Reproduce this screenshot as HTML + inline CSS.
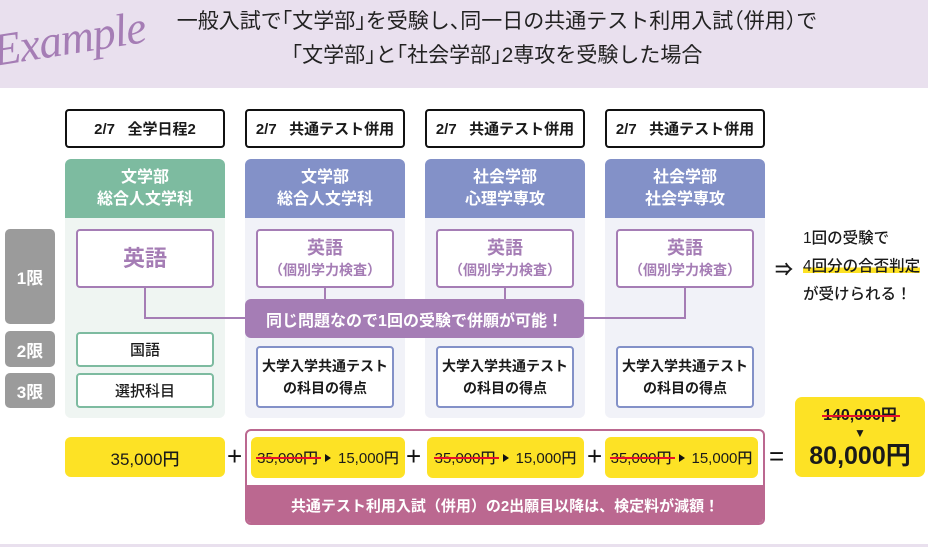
<!DOCTYPE html>
<html><head><meta charset="utf-8">
<style>
*{margin:0;padding:0;box-sizing:border-box}
body{width:928px;height:547px;position:relative;overflow:hidden;background:#fff;font-family:"Liberation Sans","Noto Sans CJK JP",sans-serif;color:#1a1a1a}
.abs{position:absolute}
.hdr{left:0;top:0;width:928px;height:88px;background:#e9e0ee}
.ex{left:-8px;top:13px;font-family:"Liberation Serif",serif;font-style:italic;font-size:46px;line-height:52px;color:#a57db5;transform:rotate(-9deg);transform-origin:center center;letter-spacing:-1px}
.t1,.t2{width:928px;left:33px;text-align:center;font-size:21px;color:#222;font-feature-settings:"halt";white-space:nowrap}
.t1{top:5px}
.t2{top:39px}
.date{width:160px;height:39px;top:109px;border:2px solid #111;border-radius:4px;font-size:15px;font-weight:bold;display:flex;align-items:center;justify-content:center;white-space:pre}
.colh{width:160px;height:59px;top:159px;border-radius:6px 6px 0 0;color:#fff;font-weight:bold;font-size:16px;line-height:22px;text-align:center;padding-top:8px}
.colb{width:160px;height:200px;top:218px;border-radius:0 0 6px 6px}
.box{width:138px;background:#fff;border:2px solid;border-radius:4px;display:flex;flex-direction:column;align-items:center;justify-content:center;text-align:center;font-weight:bold}
.eng{height:59px;top:229px;border-color:#a57db5;color:#a57db5}
.eng .a{font-size:18px;line-height:22px}
.eng .b{font-size:14px;line-height:22px}
.kyo{height:62px;top:346px;border-color:#8391c8;font-size:14px;line-height:22px;color:#1a1a1a}
.gbox{height:35px;border-color:#7dbba0;font-size:15px;font-weight:500;color:#1a1a1a}
.per{left:5px;width:50px;background:#9b9b9b;border-radius:5px;color:#fff;font-weight:bold;font-size:17px;display:flex;align-items:center;justify-content:center}
.ln{background:#a57db5}
.yel{background:#fde225;border-radius:6px;display:flex;align-items:center;justify-content:center;white-space:nowrap}
.s{position:relative;display:inline-block}
.s:after{content:"";position:absolute;left:-1px;right:-3px;top:50%;height:2px;background:#e8102a;margin-top:-1px}
.tri{display:inline-block;width:0;height:0;border-left:6px solid #111;border-top:4px solid transparent;border-bottom:4px solid transparent;margin:0 7px 0 7px}
.op{font-size:26px;font-weight:300;color:#111;line-height:1}
</style></head><body>
<div class="abs hdr"></div>
<div class="abs ex">Example</div>
<div class="abs t1">一般入試で「文学部」を受験し、同一日の共通テスト利用入試（併用）で</div>
<div class="abs t2">「文学部」と「社会学部」2専攻を受験した場合</div>

<!-- date boxes -->
<div class="abs date" style="left:65px">2/7   全学日程2</div>
<div class="abs date" style="left:245px">2/7   共通テスト併用</div>
<div class="abs date" style="left:425px">2/7   共通テスト併用</div>
<div class="abs date" style="left:605px">2/7   共通テスト併用</div>

<!-- column headers and bodies -->
<div class="abs colb" style="left:65px;background:#eff5f2"></div>
<div class="abs colb" style="left:245px;background:#f1f2f8"></div>
<div class="abs colb" style="left:425px;background:#f1f2f8"></div>
<div class="abs colb" style="left:605px;background:#f1f2f8"></div>
<div class="abs colh" style="left:65px;background:#7dbba0">文学部<br>総合人文学科</div>
<div class="abs colh" style="left:245px;background:#8391c8">文学部<br>総合人文学科</div>
<div class="abs colh" style="left:425px;background:#8391c8">社会学部<br>心理学専攻</div>
<div class="abs colh" style="left:605px;background:#8391c8">社会学部<br>社会学専攻</div>

<!-- period labels -->
<div class="abs per" style="top:229px;height:95px">1限</div>
<div class="abs per" style="top:331px;height:36px">2限</div>
<div class="abs per" style="top:373px;height:35px">3限</div>

<!-- connectors -->
<div class="abs ln" style="left:144px;top:288px;width:2px;height:31px"></div>
<div class="abs ln" style="left:144px;top:317px;width:102px;height:2px"></div>
<div class="abs ln" style="left:324px;top:288px;width:2px;height:12px"></div>
<div class="abs ln" style="left:504px;top:288px;width:2px;height:12px"></div>
<div class="abs ln" style="left:583px;top:317px;width:103px;height:2px"></div>
<div class="abs ln" style="left:684px;top:288px;width:2px;height:31px"></div>

<!-- english boxes -->
<div class="abs box eng" style="left:76px"><div style="font-size:22px;line-height:26px">英語</div></div>
<div class="abs box eng" style="left:256px"><div class="a">英語</div><div class="b">（個別学力検査）</div></div>
<div class="abs box eng" style="left:436px"><div class="a">英語</div><div class="b">（個別学力検査）</div></div>
<div class="abs box eng" style="left:616px"><div class="a">英語</div><div class="b">（個別学力検査）</div></div>

<!-- banner -->
<div class="abs" style="left:245px;top:299px;width:339px;height:39px;background:#a57db5;border-radius:6px;color:#fff;font-weight:bold;font-size:16px;display:flex;align-items:center;justify-content:center;white-space:nowrap">同じ問題なので1回の受験で併願が可能！</div>

<!-- col1 lower -->
<div class="abs box gbox" style="left:76px;top:332px">国語</div>
<div class="abs box gbox" style="left:76px;top:373px">選択科目</div>

<!-- kyotsu boxes -->
<div class="abs box kyo" style="left:256px">大学入学共通テスト<br>の科目の得点</div>
<div class="abs box kyo" style="left:436px">大学入学共通テスト<br>の科目の得点</div>
<div class="abs box kyo" style="left:616px">大学入学共通テスト<br>の科目の得点</div>

<!-- right text -->
<div class="abs" style="left:775px;top:256px;font-size:18px;font-weight:bold">⇒</div>
<div class="abs" style="left:803px;top:225px;font-size:15.5px;font-weight:500;line-height:28px;white-space:nowrap">1回の受験で<br><span style="background:linear-gradient(transparent 55%,#fde225 55%,#fde225 88%,transparent 88%)">4回分の合否判定</span><br>が受けられる！</div>

<!-- bottom row -->
<div class="abs yel" style="left:65px;top:437px;width:160px;height:40px;font-size:17px;font-weight:500">35,000円</div>
<div class="abs op" style="left:227px;top:443px">+</div>
<div class="abs" style="left:245px;top:429px;width:520px;height:96px;border:2px solid #bb6890;border-radius:6px;overflow:hidden">
  <div class="abs" style="left:0;top:54px;width:516px;height:40px;background:#bb6890;color:#fff;font-weight:bold;font-size:15px;display:flex;align-items:center;justify-content:center;white-space:nowrap">共通テスト利用入試（併用）の2出願目以降は、検定料が減額！</div>
</div>
<div class="abs yel" style="left:251px;top:437px;width:154px;height:41px;font-size:15px;font-weight:500"><span class="s">35,000円</span><span class="tri"></span>15,000円</div>
<div class="abs op" style="left:406px;top:443px">+</div>
<div class="abs yel" style="left:427px;top:437px;width:157px;height:41px;font-size:15px;font-weight:500"><span class="s">35,000円</span><span class="tri"></span>15,000円</div>
<div class="abs op" style="left:587px;top:443px">+</div>
<div class="abs yel" style="left:605px;top:437px;width:153px;height:41px;font-size:15px;font-weight:500"><span class="s">35,000円</span><span class="tri"></span>15,000円</div>
<div class="abs op" style="left:769px;top:443px">=</div>
<div class="abs" style="left:795px;top:397px;width:130px;height:80px;background:#fde225;border-radius:7px;text-align:center">
  <div style="margin-top:9px;font-size:16px;font-weight:bold;line-height:20px"><span class="s">140,000円</span></div>
  <div style="font-size:12px;line-height:12px;margin-top:1px">▼</div>
  <div style="font-size:25px;font-weight:bold;line-height:32px;margin-top:1px">80,000円</div>
</div>

<div class="abs" style="left:0;top:544px;width:928px;height:3px;background:#e9e0ee"></div>
</body></html>
